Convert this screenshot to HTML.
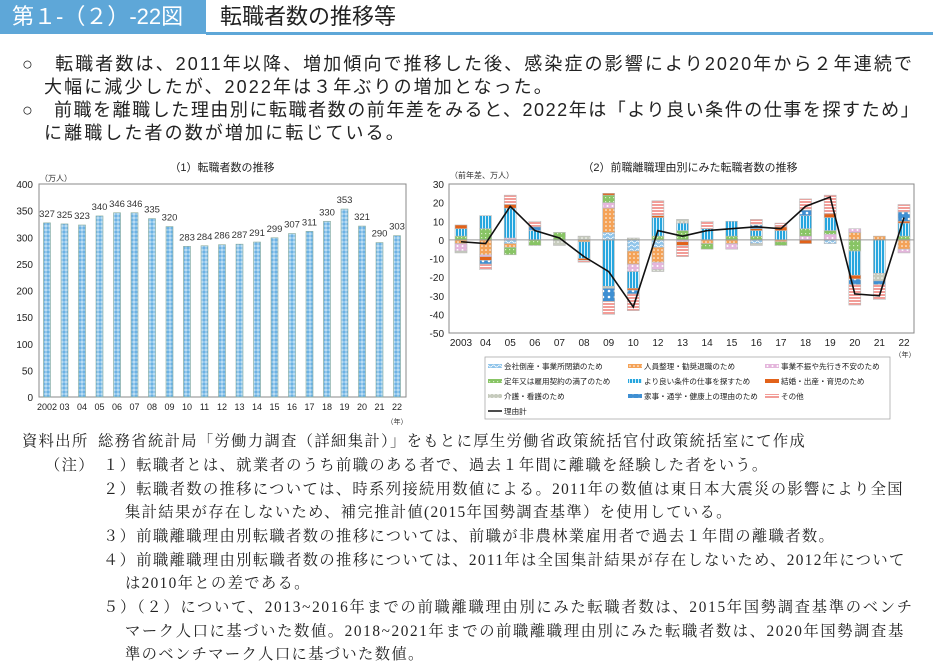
<!DOCTYPE html>
<html><head><meta charset="utf-8">
<style>
html,body{margin:0;padding:0;background:#fff;}
body{width:933px;height:669px;position:relative;overflow:hidden;font-family:"Liberation Sans","Noto Sans CJK JP",sans-serif;color:#222;}
.hdr-box{position:absolute;left:0;top:0;width:206px;height:34px;background:#5ea7d8;color:#fff;font-size:22px;line-height:34px;padding-left:12px;box-sizing:border-box;}
.hdr-line{position:absolute;left:206px;top:32px;width:727px;height:3px;background:#5ea7d8;}
.hdr-title{position:absolute;left:220px;top:0;height:34px;line-height:34px;font-size:22px;color:#222;}
.lead{position:absolute;left:22px;font-size:18px;letter-spacing:2.1px;white-space:nowrap;color:#222;}
.note{position:absolute;font-size:15.3px;letter-spacing:1.35px;white-space:nowrap;color:#222;font-family:"Liberation Serif","Noto Serif CJK SC","Noto Sans CJK JP",serif;}
svg{position:absolute;left:0;top:0;}
</style></head>
<body>
<div class="hdr-box">第１-（２）-22図</div>
<div class="hdr-line"></div>
<div class="hdr-title">転職者数の推移等</div>

<div class="lead" style="top:50px">○　転職者数は、2011年以降、増加傾向で推移した後、感染症の影響により2020年から２年連続で</div>
<div class="lead" style="top:73px;left:44px">大幅に減少したが、2022年は３年ぶりの増加となった。</div>
<div class="lead" style="top:96px;letter-spacing:1.55px">○　前職を離職した理由別に転職者数の前年差をみると、2022年は「より良い条件の仕事を探すため」</div>
<div class="lead" style="top:119px;left:44px">に離職した者の数が増加に転じている。</div>

<svg id="chart" width="933" height="669">
<defs>
<pattern id="p0" width="6" height="4" patternUnits="userSpaceOnUse"><rect width="6" height="4" fill="#8fc4ea"/><path d="M0 2 Q1.5 0 3 2 T6 2" stroke="#fff" stroke-width="0.8" fill="none"/></pattern>
<pattern id="p1" width="4" height="4" patternUnits="userSpaceOnUse"><rect width="4" height="4" fill="#f4a257"/><circle cx="2" cy="2" r="0.8" fill="#fff"/></pattern>
<pattern id="p2" width="5" height="4" patternUnits="userSpaceOnUse"><rect width="5" height="4" fill="#e4b6dc"/><circle cx="2.5" cy="2" r="1" fill="#fff"/></pattern>
<pattern id="p3" width="4" height="4" patternUnits="userSpaceOnUse"><rect width="4" height="4" fill="#88c465"/><rect x="1" y="1" width="1.2" height="1.2" fill="#d8efc8"/></pattern>
<pattern id="p4" width="3" height="4" patternUnits="userSpaceOnUse"><rect width="3" height="4" fill="#27a6de"/><rect x="2" width="1" height="4" fill="#d7f0fb"/></pattern>
<pattern id="p5" width="4" height="4" patternUnits="userSpaceOnUse"><rect width="4" height="4" fill="#e2621a"/></pattern>
<pattern id="p6" width="4" height="4" patternUnits="userSpaceOnUse"><rect width="4" height="4" fill="#c6cbbd"/><circle cx="2" cy="2" r="0.8" fill="#fff"/></pattern>
<pattern id="p7" width="6" height="6" patternUnits="userSpaceOnUse"><rect width="6" height="6" fill="#3f8fd2"/><circle cx="3" cy="3" r="1.3" fill="#fff"/></pattern>
<pattern id="p8" width="4" height="3" patternUnits="userSpaceOnUse"><rect width="4" height="3" fill="#f29d98"/><rect y="2" width="4" height="1" fill="#fff"/></pattern>
<pattern id="pl" width="4" height="4" patternUnits="userSpaceOnUse"><rect width="4" height="4" fill="#6cb2e4"/><path d="M0 2 L2 0 L4 2 L2 4Z" fill="#b9dcf3"/></pattern>
</defs>
<g id="left"></g>
<g id="right"></g>
</svg>

<div class="note" style="top:429px;left:22px">資料出所</div>
<div class="note" style="top:429px;left:98px">総務省統計局「労働力調査（詳細集計）」をもとに厚生労働省政策統括官付政策統括室にて作成</div>
<div class="note" style="top:453px;left:45px">（注）</div>
<div class="note" style="top:453px;left:103px">１）転職者とは、就業者のうち前職のある者で、過去１年間に離職を経験した者をいう。</div>
<div class="note" style="top:477px;left:103px">２）転職者数の推移については、時系列接続用数値による。2011年の数値は東日本大震災の影響により全国</div>
<div class="note" style="top:500px;left:125px">集計結果が存在しないため、補完推計値(2015年国勢調査基準）を使用している。</div>
<div class="note" style="top:524px;left:103px">３）前職離職理由別転職者数の推移については、前職が非農林業雇用者で過去１年間の離職者数。</div>
<div class="note" style="top:548px;left:103px">４）前職離職理由別転職者数の推移については、2011年は全国集計結果が存在しないため、2012年について</div>
<div class="note" style="top:571px;left:125px">は2010年との差である。</div>
<div class="note" style="top:595px;left:103px;letter-spacing:1.7px">５）（２）について、2013~2016年までの前職離職理由別にみた転職者数は、2015年国勢調査基準のベンチ</div>
<div class="note" style="top:619px;left:125px;letter-spacing:1.6px">マーク人口に基づいた数値。2018~2021年までの前職離職理由別にみた転職者数は、2020年国勢調査基</div>
<div class="note" style="top:642px;left:125px">準のベンチマーク人口に基づいた数値。</div>

<script>
const leftYears = ["2002","03","04","05","06","07","08","09","10","11","12","13","14","15","16","17","18","19","20","21","22"];
const leftValues = [327,325,323,340,346,346,335,320,283,284,286,287,291,299,307,311,330,353,321,290,303];
const leftTicks = [0,50,100,150,200,250,300,350,400];

const rightYears = ["2003","04","05","06","07","08","09","10","12","13","14","15","16","17","18","19","20","21","22"];
const reasonNames = ["会社倒産・事業所閉鎖のため","人員整理・勧奨退職のため","事業不振や先行き不安のため","定年又は雇用契約の満了のため","より良い条件の仕事を探すため","結婚・出産・育児のため","介護・看護のため","家事・通学・健康上の理由のため","その他"];
const sBankrupt = [0,0,-2,0,0,0,4,-6,-4,0,0,0,-2,0,0,-2,0,0,0];
const sRestructure = [-2,-8,-2,0,0,-1,13,-7,-8,0,-2,-2,0,-1,0,0,4,2,-5];
const sSlump = [-4,-1,1,0,0,0,3,-4,-4,-1,0,-3,0,0,2,3,2,0,-2];
const sRetire = [2,6,-4,-3,4,0,4,0,2,5,-3,2,2,-2,4,2,-6,0,2];
const sBetter = [4,7,16,5,0,-9,-25,-9,10,4,6,8,3,5,7,7,-13,-18,7];
const sMarriage = [2,-2,2,0,0,-1,1,-1,1,-2,0,0,1,2,-2,2,-2,0,1];
const sCare = [-1,0,0,0,-3,2,-1,1,-1,2,0,0,-1,0,0,0,0,-4,0];
const sHousework = [0,-2,0,2,0,0,-7,-2,0,0,0,0,2,0,3,0,-3,-2,5];
const sOther = [0,-3,5,3,0,-1,-7,-9,8,-6,4,0,3,2,6,10,-11,-8,4];
const totalLine = [-1,-2,18,5,1,-9,-17,-36,5,2,5,6,7,6,18,23,-29,-30,12];
const rightTicks = [30,20,10,0,-10,-20,-30,-40,-50];

const NS="http://www.w3.org/2000/svg";
function mk(tag,attrs,parent,text){const e=document.createElementNS(NS,tag);for(const k in attrs)e.setAttribute(k,attrs[k]);if(text!==undefined)e.textContent=text;parent.appendChild(e);return e;}
const FONT='"Liberation Sans","Noto Sans CJK JP",sans-serif';

/* ---- left chart ---- */
const L=document.getElementById('left');
const lx0=39,lx1=406,ly0=397,ly1=184;
const ly=v=>ly0-(v/400)*(ly0-ly1);
const lx=i=>47+i*(397-47)/(leftYears.length-1);
let t=mk('text',{x:222,y:171,'font-size':11,'text-anchor':'middle','font-family':FONT,fill:'#222'},L,'（1）転職者数の推移');


t=mk('text',{x:40,y:181,'font-size':8,'font-family':FONT,fill:'#333'},L,'（万人）');


let fr=mk('rect',{x:lx0,y:ly1,width:lx1-lx0,height:ly0-ly1,fill:'none',stroke:'#888','stroke-width':1},L);


leftTicks.forEach(v=>{
  const tt=mk('text',{x:33,y:ly(v)+4,'font-size':10,'text-anchor':'end','font-family':FONT,fill:'#222'},L,String(v));
  
  
});
leftValues.forEach((v,i)=>{
  const b=mk('rect',{x:lx(i)-3.5,y:ly(v),width:7,height:ly0-ly(v),fill:'url(#pl)',stroke:'#8a9','stroke-width':0.6},L);
  
  
  const lb=mk('text',{x:lx(i),y:ly(v)-6,'font-size':9.5,'text-anchor':'middle','font-family':FONT,fill:'#333'},L,String(v));
  
  
  const xl=mk('text',{x:lx(i),y:410,'font-size':9,'text-anchor':'middle','font-family':FONT,fill:'#222'},L,leftYears[i]);
  
  
});
t=mk('text',{x:397,y:424,'font-size':7,'text-anchor':'middle','font-family':FONT,fill:'#333'},L,'（年）');



/* ---- right chart ---- */
const R=document.getElementById('right');
const rx0=449,rx1=914,ry30=184,rym50=333;
const ry=v=>ry30+(30-v)*(rym50-ry30)/80;
const rx=i=>461+i*(904-461)/(rightYears.length-1);
t=mk('text',{x:690,y:171,'font-size':11,'text-anchor':'middle','font-family':FONT,fill:'#222'},R,'（2）前職離職理由別にみた転職者数の推移');


t=mk('text',{x:450,y:178,'font-size':8,'font-family':FONT,fill:'#333'},R,'（前年差、万人）');


fr=mk('rect',{x:rx0,y:ry30,width:rx1-rx0,height:rym50-ry30,fill:'none',stroke:'#888','stroke-width':1},R);


rightTicks.forEach(v=>{
  const tt=mk('text',{x:444,y:ry(v)+4,'font-size':10,'text-anchor':'end','font-family':FONT,fill:'#222'},R,String(v));
  
  
});
const series=[sBankrupt,sRestructure,sSlump,sRetire,sBetter,sMarriage,sCare,sHousework,sOther];
const bw=12;
rightYears.forEach((yr,i)=>{
  let pos=0,neg=0;
  series.forEach((s,k)=>{
    const v=s[i]; if(!v) return;
    let a,b;
    if(v>0){a=pos;b=pos+v;pos=b;}else{a=neg;b=neg+v;neg=b;}
    const top=ry(Math.max(a,b)),bot=ry(Math.min(a,b));
    const r=mk('rect',{x:rx(i)-bw/2,y:top,width:bw,height:bot-top,fill:'url(#p'+k+')',stroke:'#bbb','stroke-width':0.6},R);
    
    
  });
  const xl=mk('text',{x:rx(i),y:346,'font-size':10,'text-anchor':'middle','font-family':FONT,fill:'#222'},R,yr);
  
  
});
let zl=mk('line',{x1:rx0,x2:rx1,y1:ry(0),y2:ry(0),stroke:'#999','stroke-width':1},R);


const pts=totalLine.map((v,i)=>rx(i)+','+ry(v)).join(' ');
let pl=mk('polyline',{points:pts,fill:'none',stroke:'#111','stroke-width':1.6},R);


t=mk('text',{x:905,y:357,'font-size':7,'text-anchor':'middle','font-family':FONT,fill:'#333'},R,'（年）');



/* legend */
const lg=mk('g',{},R);


mk('rect',{x:485,y:357,width:405,height:62,fill:'#fff',stroke:'#aaa','stroke-width':0.8},lg);
const cols=[488,628,765],rows=[366,381,396];
reasonNames.forEach((n,k)=>{
  const cx=cols[k%3],cy=rows[Math.floor(k/3)];
  const sw=mk('rect',{x:cx,y:cy-2,width:14,height:4,fill:'url(#p'+k+')'},lg);
  
  
  const tx=mk('text',{x:cx+16,y:cy+3,'font-size':7.6,'font-family':FONT,fill:'#222'},lg,n);
  
  
});
mk('line',{x1:488,x2:502,y1:411,y2:411,stroke:'#111','stroke-width':1.5},lg);
const lt=mk('text',{x:504,y:414,'font-size':7.6,'font-family':FONT,fill:'#222'},lg,'理由計');


</script>
</body></html>
